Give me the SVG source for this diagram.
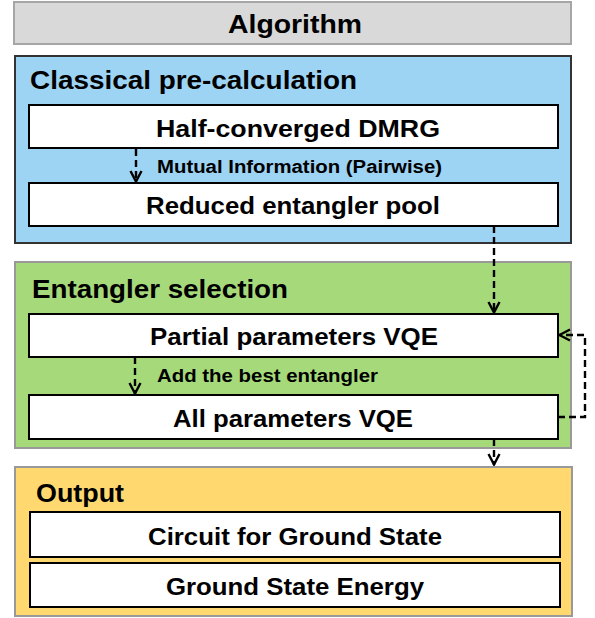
<svg xmlns="http://www.w3.org/2000/svg" width="595" height="618" viewBox="0 0 595 618">
<style>
text{font-family:"Liberation Sans",Arial,sans-serif;font-weight:bold;fill:#000}
.box{fill:#fff;stroke:#000;stroke-width:2}
.t{font-size:24px}
.h{font-size:25px}
.s{font-size:18px}
.c{fill:none;stroke:#000;stroke-width:2.4;stroke-dasharray:7,4}
</style>
<defs>
<marker id="ah" viewBox="0 0 14 14" refX="13" refY="7" markerWidth="14" markerHeight="14" markerUnits="userSpaceOnUse" orient="auto">
<path d="M2,1.5 L12.5,7 L2,12.5" fill="none" stroke="#000" stroke-width="2.4"/>
</marker>
</defs>
<g id="algorithm">
<rect x="14" y="2" width="557" height="42" fill="#d9d9d9" stroke="#a6a6a6" stroke-width="2"/>
<text x="228" y="33" font-size="26" textLength="134" lengthAdjust="spacingAndGlyphs">Algorithm</text>
</g>
<g id="classical">
<rect x="15" y="56" width="556" height="187" fill="#9dd3f3" stroke="#333" stroke-width="2"/>
<text class="h" x="30" y="89" textLength="327" lengthAdjust="spacingAndGlyphs">Classical pre-calculation</text>
</g>
<g id="dmrg">
<rect class="box" x="29" y="105" width="529" height="43"/>
<text class="t" x="156" y="137" textLength="284" lengthAdjust="spacingAndGlyphs">Half-converged DMRG</text>
</g>
<g id="pool">
<rect class="box" x="29" y="183" width="529" height="43"/>
<text class="t" x="146" y="214" textLength="294" lengthAdjust="spacingAndGlyphs">Reduced entangler pool</text>
</g>
<g id="selection">
<rect x="15" y="262" width="556" height="186" fill="#a6d97a" stroke="#999" stroke-width="2"/>
<text class="h" x="32" y="298" textLength="256" lengthAdjust="spacingAndGlyphs">Entangler selection</text>
</g>
<g id="partial">
<rect class="box" x="29" y="314" width="529" height="43"/>
<text class="t" x="150" y="345" textLength="288" lengthAdjust="spacingAndGlyphs">Partial parameters VQE</text>
</g>
<g id="all">
<rect class="box" x="29" y="395" width="529" height="44"/>
<text class="t" x="173" y="427" textLength="240" lengthAdjust="spacingAndGlyphs">All parameters VQE</text>
</g>
<g id="output">
<rect x="15" y="467" width="557" height="149" fill="#ffd970" stroke="#999" stroke-width="2"/>
<text class="h" x="36" y="502" textLength="88" lengthAdjust="spacingAndGlyphs">Output</text>
</g>
<g id="circuit">
<rect class="box" x="30" y="512" width="530" height="45"/>
<text class="t" x="148" y="545" textLength="294" lengthAdjust="spacingAndGlyphs">Circuit for Ground State</text>
</g>
<g id="energy">
<rect class="box" x="30" y="563" width="530" height="44"/>
<text class="t" x="166" y="595" textLength="258" lengthAdjust="spacingAndGlyphs">Ground State Energy</text>
</g>
<g id="connectors">
<path class="c" d="M136,149 V182" marker-end="url(#ah)"/>
<text class="s" x="157" y="173" textLength="285" lengthAdjust="spacingAndGlyphs">Mutual Information (Pairwise)</text>
<path class="c" d="M494,226 V313" marker-end="url(#ah)"/>
<path class="c" d="M135,357 V394" marker-end="url(#ah)"/>
<text class="s" x="157" y="382" textLength="221" lengthAdjust="spacingAndGlyphs">Add the best entangler</text>
<path class="c" d="M494,439 V465" marker-end="url(#ah)"/>
<path class="c" d="M558,417 H585 V335 H559" marker-end="url(#ah)"/>
</g>
</svg>
